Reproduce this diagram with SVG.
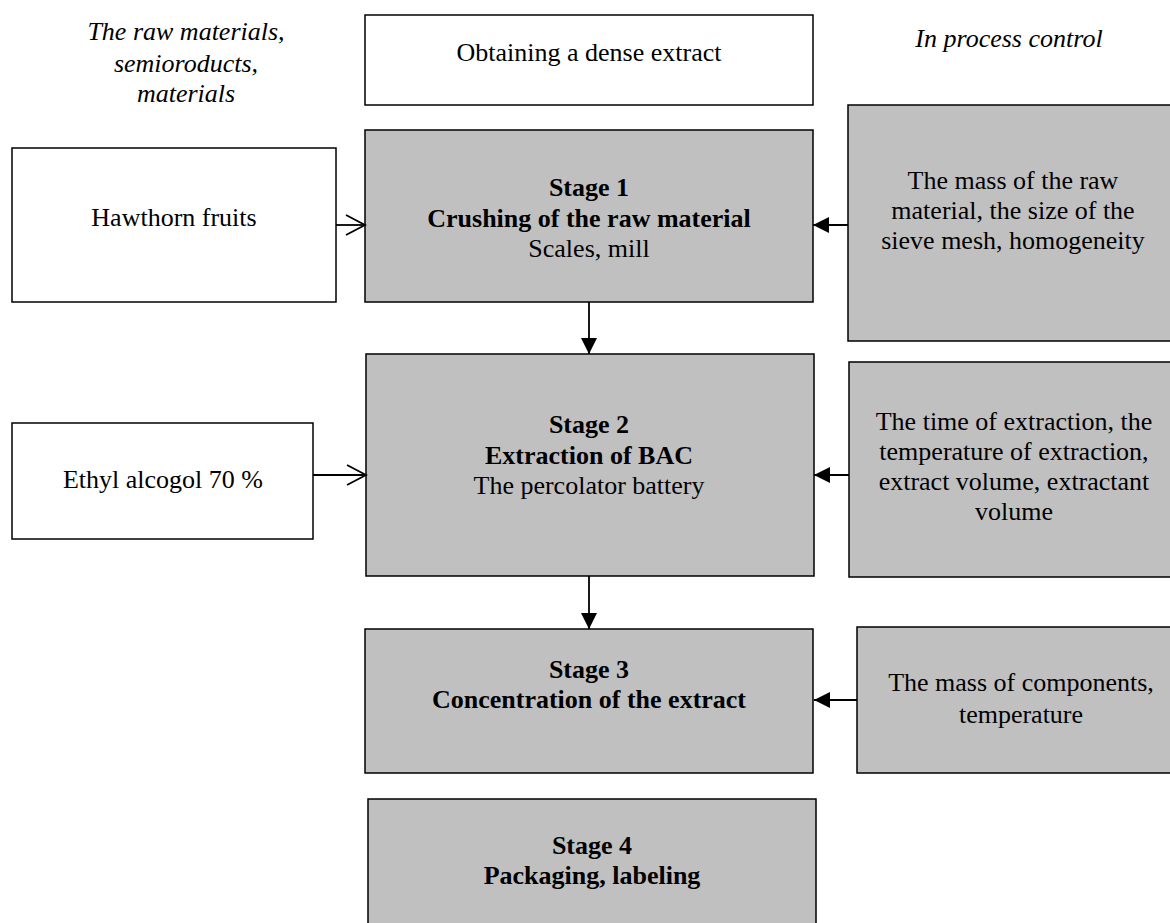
<svg xmlns="http://www.w3.org/2000/svg" width="1170" height="923" viewBox="0 0 1170 923">
<style>
text{font-family:'Liberation Serif','Times New Roman',serif;font-size:26px;fill:#000;text-anchor:middle}
.it{font-style:italic}
.b{font-weight:bold}
.w{fill:#fff;stroke:#000;stroke-width:1.5}
.g{fill:#c0c0c0;stroke:#000;stroke-width:1.5}
.c{stroke:#000;stroke-width:1.8;fill:none}
</style>
<defs>
<marker id="fa" markerWidth="17" markerHeight="18" refX="16" refY="9" orient="auto" markerUnits="userSpaceOnUse">
<path d="M0,1 L16,9 L0,17 Z" fill="#000"/>
</marker>
<marker id="oa" markerWidth="22" markerHeight="24" refX="20" refY="12" orient="auto" markerUnits="userSpaceOnUse">
<path d="M1,2 L20,12 L1,22" fill="none" stroke="#000" stroke-width="1.8"/>
</marker>
</defs>
<g id="hdr-left"><text class="it" x="186" y="40">The raw materials,</text><text class="it" x="186" y="72">semioroducts,</text><text class="it" x="186" y="102">materials</text></g>
<g id="hdr-right"><text class="it" x="1009" y="47">In process control</text></g>
<g id="title"><rect class="w" x="365" y="15" width="448" height="90"/><text x="589" y="61">Obtaining a dense extract</text></g>
<g id="hawthorn"><rect class="w" x="12" y="148" width="324" height="154"/><text x="174" y="226">Hawthorn fruits</text></g>
<g id="stage1"><rect class="g" x="365" y="130" width="448" height="172"/><text class="b" x="589" y="196">Stage 1</text><text class="b" x="589" y="227">Crushing of the raw material</text><text x="589" y="257">Scales, mill</text></g>
<g id="ctrl1"><rect class="g" x="848" y="105" width="330" height="236"/><text x="1013" y="189">The mass of the raw</text><text x="1013" y="219">material, the size of the</text><text x="1013" y="249">sieve mesh, homogeneity</text></g>
<g id="ethyl"><rect class="w" x="12" y="423" width="301" height="116"/><text x="163" y="488">Ethyl alcogol 70 %</text></g>
<g id="stage2"><rect class="g" x="366" y="354" width="448" height="222"/><text class="b" x="589" y="433">Stage 2</text><text class="b" x="589" y="464">Extraction of BAC</text><text x="589" y="494">The percolator battery</text></g>
<g id="ctrl2"><rect class="g" x="849" y="362" width="330" height="215"/><text x="1014" y="430">The time of extraction, the</text><text x="1014" y="460">temperature of extraction,</text><text x="1014" y="490">extract volume, extractant</text><text x="1014" y="520">volume</text></g>
<g id="stage3"><rect class="g" x="365" y="629" width="448" height="144"/><text class="b" x="589" y="678">Stage 3</text><text class="b" x="589" y="708">Concentration of the extract</text></g>
<g id="ctrl3"><rect class="g" x="857" y="627" width="322" height="146"/><text x="1021" y="691">The mass of components,</text><text x="1021" y="723">temperature</text></g>
<g id="stage4"><rect class="g" x="368" y="799" width="448" height="140"/><text class="b" x="592" y="854">Stage 4</text><text class="b" x="592" y="884">Packaging, labeling</text></g>
<g id="connectors">
<line class="c" x1="336" y1="225" x2="365" y2="225" marker-end="url(#oa)"/>
<line class="c" x1="848" y1="225" x2="813" y2="225" marker-end="url(#fa)"/>
<line class="c" x1="589" y1="302" x2="589" y2="354" marker-end="url(#fa)"/>
<line class="c" x1="313" y1="475" x2="366" y2="475" marker-end="url(#oa)"/>
<line class="c" x1="849" y1="475" x2="814" y2="475" marker-end="url(#fa)"/>
<line class="c" x1="589" y1="576" x2="589" y2="629" marker-end="url(#fa)"/>
<line class="c" x1="857" y1="700" x2="814" y2="700" marker-end="url(#fa)"/>
</g>
</svg>
